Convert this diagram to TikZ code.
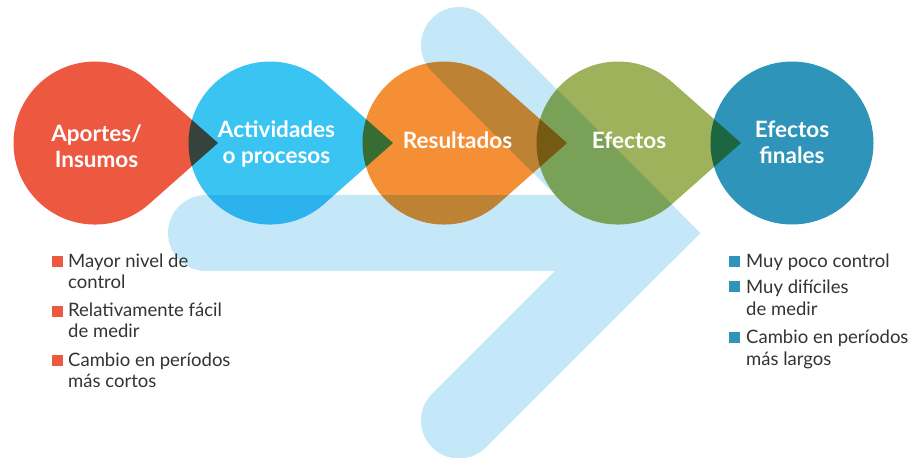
\documentclass[tikz,border=0pt]{standalone}
\usepackage{fontspec}
\setmainfont{Lato}
\definecolor{cRed}{HTML}{EC5840}
\definecolor{cCyan}{HTML}{3AC4F2}
\definecolor{cOrange}{HTML}{F58F36}
\definecolor{cOlive}{HTML}{9DB25A}
\definecolor{cTeal}{HTML}{2E94B9}
\definecolor{cArrow}{HTML}{C5E8F9}
\definecolor{cText}{HTML}{333333}
\newcommand\mytear[3]{%
  \fill[#1, blend mode=multiply] (#2+123,#3) -- ++(-69,-61)
    arc[start angle=-48.5, end angle=-311.5, radius=81.5] -- cycle;}
\tikzset{
  title/.style={text=white, align=center, inner sep=0pt, anchor=base,
    font=\fontsize{22.5}{26}\selectfont\bfseries},
  item/.style={text=cText, align=left, anchor=base west, inner sep=0pt,
    font=\fontsize{18.5}{21}\selectfont},
  itemr/.style={item, font=\fontsize{18.5}{22}\selectfont},
  bulletsq/.style={minimum size=11pt, inner sep=0pt, anchor=south west}
}
\begin{document}
\begin{tikzpicture}[x=1pt, y=-1pt]
\useasboundingbox (0,0) rectangle (911,458);
% background arrow
\draw[cArrow, line width=76pt, line cap=round] (206,233) -- (646.75,233);
\draw[cArrow, line width=76pt, line cap=round, line join=miter]
  (459,45) -- (646.75,233) -- (459,420.5);
% teardrops
\mytear{cRed}{95}{143}
\mytear{cCyan}{270}{143}
\mytear{cOrange}{444}{143}
\mytear{cOlive}{618}{143}
\fill[cTeal, blend mode=multiply] (792,143) circle[radius=81.5];
% titles (positioned by last baseline)
\node[title] (t1) at (96.5,167) {Aportes/\\Insumos};
\node[title] (t2) at (276.5,163) {Actividades\\o procesos};
\node[title] (t3) at (457.5,148) {Resultados};
\node[title] (t4) at (629,148) {Efectos};
\node[title] (t5) at (792,163) {Efectos\\finales};
% left list
\node[bulletsq, fill=cRed] (lb1) at (52,267) {};
\node[bulletsq, fill=cRed] (lb2) at (52,317) {};
\node[bulletsq, fill=cRed] (lb3) at (52,366) {};
\node[item] (l1) at (68,288) {Mayor nivel de\\control};
\node[item] (l2) at (68,337) {Relativamente fácil\\de medir};
\node[item] (l3) at (68,387) {Cambio en períodos\\más cortos};
% right list
\node[bulletsq, fill=cTeal] (rb1) at (729,267) {};
\node[bulletsq, fill=cTeal] (rb2) at (729,292) {};
\node[bulletsq, fill=cTeal] (rb3) at (729,343) {};
\node[itemr] (r1) at (746,267) {Muy poco control};
\node[itemr] (r2) at (746,315) {Muy difíciles\\de medir};
\node[itemr] (r3) at (746,365) {Cambio en períodos\\más largos};
\end{tikzpicture}
\end{document}
